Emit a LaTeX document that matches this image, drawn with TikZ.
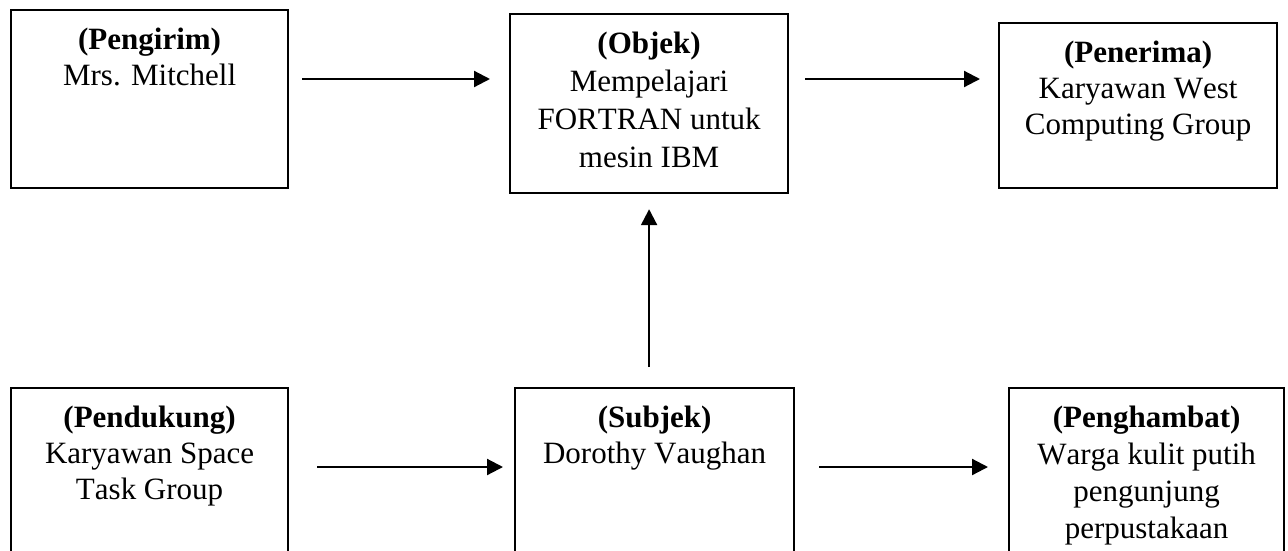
\documentclass[tikz,border=0pt]{standalone}
\usepackage{fontspec}
\setmainfont{Liberation Serif}[Kerning=Off]
\usetikzlibrary{arrows.meta,positioning}

% box content: width, height, role, name
\newcommand{\boxtext}[4]{\parbox[t][#2][t]{#1}{\centering\vspace*{18pt}\textbf{#3}\\#4}}

\begin{document}
\begin{tikzpicture}[x=1pt, y=-1pt,
    box/.style={draw, line width=2.2pt, inner sep=0pt, anchor=north west, font=\fontsize{31}{36}\selectfont},
    arr/.style={line width=2.2pt, -{Triangle[length=16pt,width=16pt]}}]
    \useasboundingbox (0,0) rectangle (1288,550);
    \clip (0,0) rectangle (1288,550);

    % Top row
    \node[box] (P) at (10,9) {\boxtext{277pt}{178pt}{(Pengirim)}{Mrs. Mitchell}};
    \node[box, font=\fontsize{31}{38}\selectfont] (O) at (509,13) {\boxtext{278pt}{179pt}{(Objek)}{Mempelajari\\FORTRAN untuk\\mesin IBM}};
    \node[box] (R) at (998,22) {\boxtext{278pt}{165pt}{(Penerima)}{Karyawan West\\Computing Group}};

    % Bottom row
    \node[box] (D) at (10,387) {\boxtext{277pt}{185pt}{(Pendukung)}{Karyawan Space\\Task Group}};
    \node[box] (S) at (514,387) {\boxtext{279pt}{185pt}{(Subjek)}{Dorothy Vaughan}};
    \node[box, font=\fontsize{31}{37}\selectfont] (H) at (1008,387) {\boxtext{275pt}{185pt}{(Penghambat)}{Warga kulit putih\\pengunjung\\perpustakaan}};

    % Arrow heights
    \coordinate (toprow) at (0,79);
    \coordinate (botrow) at (0,467);

    % Arrows
    \draw[arr, shorten <=13pt, shorten >=19pt] (P.east |- toprow) -- (O.west |- toprow);
    \draw[arr, shorten <=16pt, shorten >=18pt] (O.east |- toprow) -- (R.west |- toprow);
    \draw[arr, shorten <=28pt, shorten >=11pt] (D.east |- botrow) -- (S.west |- botrow);
    \draw[arr, shorten <=24pt, shorten >=20pt] (S.east |- botrow) -- (H.west |- botrow);
    \draw[arr, shorten <=20pt, shorten >=15pt] (O.south |- S.north) -- (O.south);
\end{tikzpicture}
\end{document}
